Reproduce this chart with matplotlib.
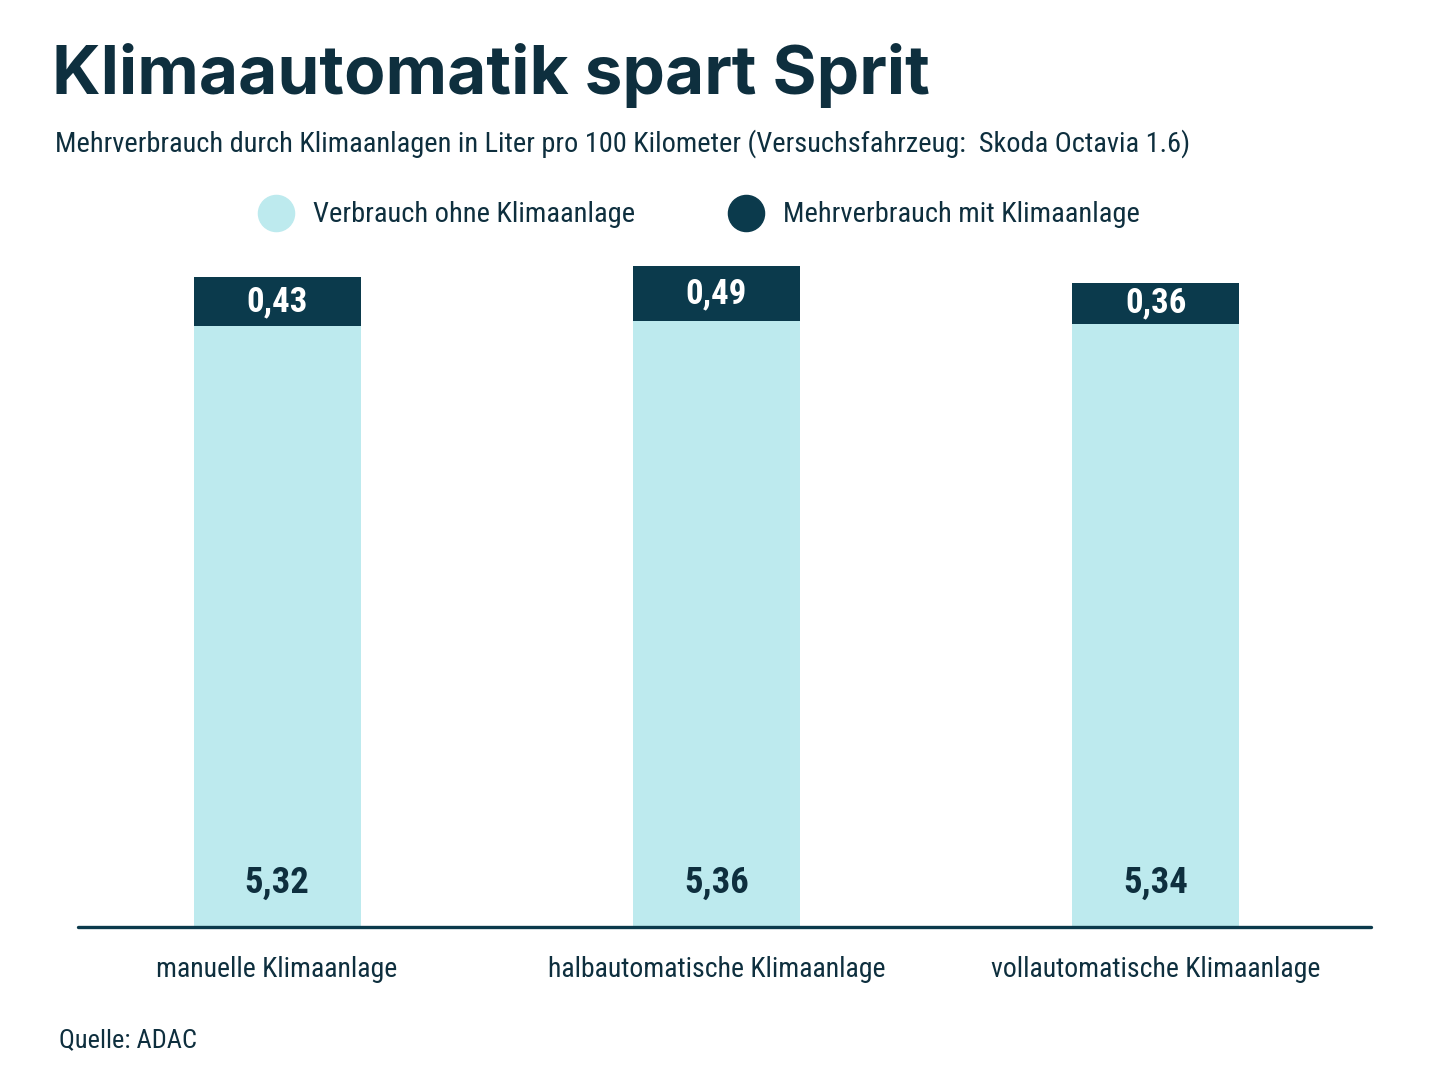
import matplotlib
matplotlib.use("Agg")
import matplotlib.pyplot as plt
from matplotlib import font_manager as fm
from matplotlib.lines import Line2D

# ---- data ----
categories = ["manuelle Klimaanlage", "halbautomatische Klimaanlage", "vollautomatische Klimaanlage"]
base_values = [5.32, 5.36, 5.34]
extra_values = [0.43, 0.49, 0.36]
base_labels = ["5,32", "5,36", "5,34"]
extra_labels = ["0,43", "0,49", "0,36"]
series_names = ["Verbrauch ohne Klimaanlage", "Mehrverbrauch mit Klimaanlage"]

title = "Klimaautomatik spart Sprit"
subtitle = "Mehrverbrauch durch Klimaanlagen in Liter pro 100 Kilometer (Versuchsfahrzeug:  Skoda Octavia 1.6)"
source = "Quelle: ADAC"

LIGHT = "#bdeaee"
DARK = "#0b3a4c"
TEXT = "#0e2f3e"

installed = {f.name for f in fm.fontManager.ttflist}
def pick(cands):
    for c in cands:
        if c in installed:
            return c
    return "DejaVu Sans"

COND = pick(["Roboto Condensed", "DejaVu Sans Condensed", "Liberation Sans Narrow", "Roboto"])
TITLEF = pick(["Inter", "Lato", "Roboto"])

fig = plt.figure(figsize=(14.48, 10.86), dpi=100)
fig.patch.set_facecolor("white")
ax = fig.add_axes([78 / 1448, 1 - 927 / 1086, 1293 / 1448, 6.0 * 113 / 1086])

x = list(range(len(categories)))
w = 0.38
ax.bar(x, base_values, width=w, color=LIGHT, label=series_names[0], zorder=2)
ax.bar(x, extra_values, width=w, bottom=base_values, color=DARK, label=series_names[1], zorder=2)

for i in x:
    ax.text(i, 0.39, base_labels[i], ha="center", va="center", fontsize=26.5,
            fontweight="bold", color=TEXT, family=COND)
    ax.text(i, base_values[i] + extra_values[i] / 2, extra_labels[i], ha="center", va="center",
            fontsize=25, fontweight="bold", color="white", family=COND)

ax.set_xlim(-0.453, 2.49)
ax.set_ylim(0, 6.0)
for s in ["top", "right", "left"]:
    ax.spines[s].set_visible(False)
ax.spines["bottom"].set_color(DARK)
ax.spines["bottom"].set_linewidth(2.4)
ax.spines["bottom"].set_capstyle("round")
ax.set_yticks([])
ax.set_xticks(x)
ax.set_xticklabels(categories, fontsize=20, color=TEXT, family=COND)
ax.tick_params(axis="x", length=0, pad=21)

fig.text(52 / 1448, 1 - 75 / 1086, title, fontsize=48.6, fontweight="bold", color=TEXT,
         family=TITLEF, va="center", ha="left")
fig.text(55 / 1448, 1 - 144 / 1086, subtitle, fontsize=20.4, color=TEXT, family=COND,
         va="center", ha="left")
fig.text(59 / 1448, 1 - 1040 / 1086, source, fontsize=19, color=TEXT, family=COND,
         va="center", ha="left")

handles = [Line2D([], [], marker="o", ls="", markersize=26, markerfacecolor=LIGHT, markeredgecolor=LIGHT),
           Line2D([], [], marker="o", ls="", markersize=26, markerfacecolor=DARK, markeredgecolor=DARK)]
fig.legend(handles, series_names, loc="center", bbox_to_anchor=(699 / 1448, 1 - 215 / 1086),
           ncol=2, frameon=False, prop={"family": COND, "size": 20.5}, labelcolor=TEXT,
           handletextpad=0.7, columnspacing=3.3, handlelength=1.2)

fig.savefig("out.png", dpi=100, facecolor="white")
